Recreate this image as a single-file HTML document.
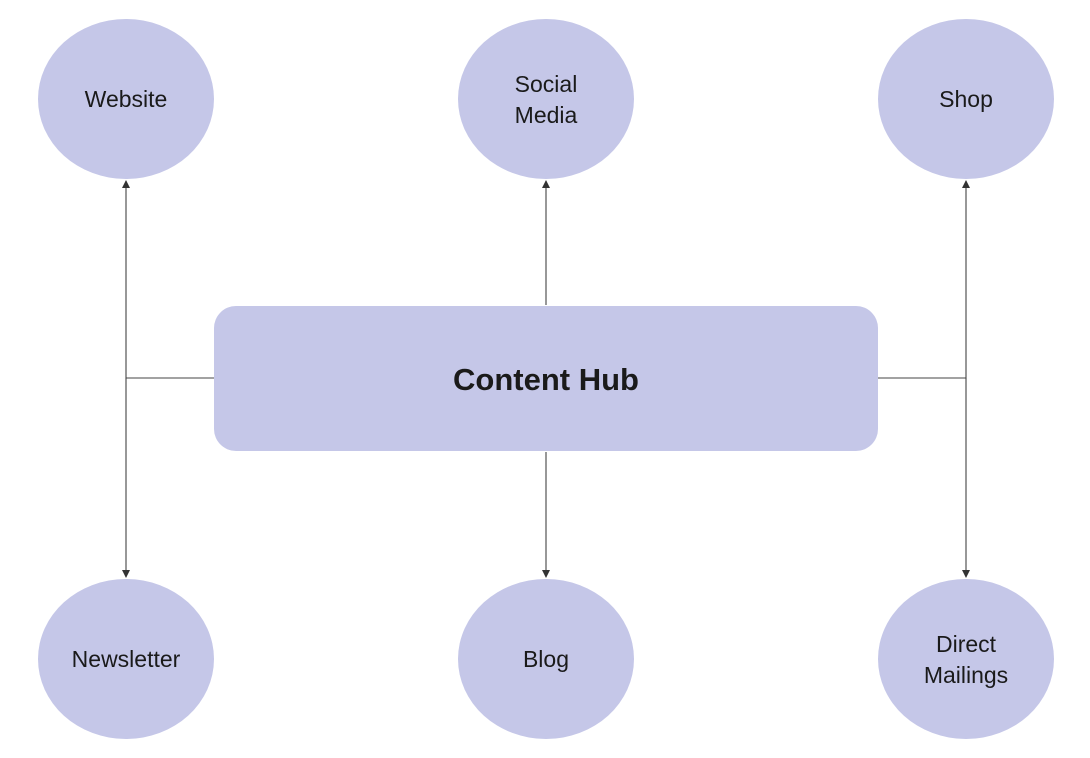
<!DOCTYPE html>
<html><head><meta charset="utf-8"><style>
html,body{margin:0;padding:0;background:#fff;width:1090px;height:758px;overflow:hidden}
text{font-family:"Liberation Sans","DejaVu Sans",sans-serif;fill:#1a1a1a}
</style></head><body>
<svg width="1090" height="758" viewBox="0 0 1090 758" xmlns="http://www.w3.org/2000/svg">
<defs><marker id="a" markerWidth="8" markerHeight="8" refX="7" refY="4" orient="auto" markerUnits="userSpaceOnUse"><path d="M0,0 L8,4 L0,8 z" fill="#333"/></marker></defs>
<g stroke="#444" stroke-width="1.1" fill="none">
<path d="M214,378 H126 V181" marker-end="url(#a)"/>
<path d="M126,378 V577" marker-end="url(#a)"/>
<path d="M546,305 V181" marker-end="url(#a)"/>
<path d="M546,452 V577" marker-end="url(#a)"/>
<path d="M878,378 H966 V181" marker-end="url(#a)"/>
<path d="M966,378 V577" marker-end="url(#a)"/>
</g>
<g fill="#c5c7e8">
<rect x="214" y="306" width="664" height="145" rx="22"/>
<ellipse cx="126" cy="99" rx="88" ry="80"/>
<ellipse cx="546" cy="99" rx="88" ry="80"/>
<ellipse cx="966" cy="99" rx="88" ry="80"/>
<ellipse cx="126" cy="659" rx="88" ry="80"/>
<ellipse cx="546" cy="659" rx="88" ry="80"/>
<ellipse cx="966" cy="659" rx="88" ry="80"/>
</g>
<g font-size="23" text-anchor="middle">
<text x="126" y="107">Website</text>
<text x="546" y="92">Social</text>
<text x="546" y="123">Media</text>
<text x="966" y="107">Shop</text>
<text x="126" y="667">Newsletter</text>
<text x="546" y="667">Blog</text>
<text x="966" y="652">Direct</text>
<text x="966" y="683">Mailings</text>
<text x="546" y="390" font-size="31" font-weight="bold">Content Hub</text>
</g>
</svg>
</body></html>
